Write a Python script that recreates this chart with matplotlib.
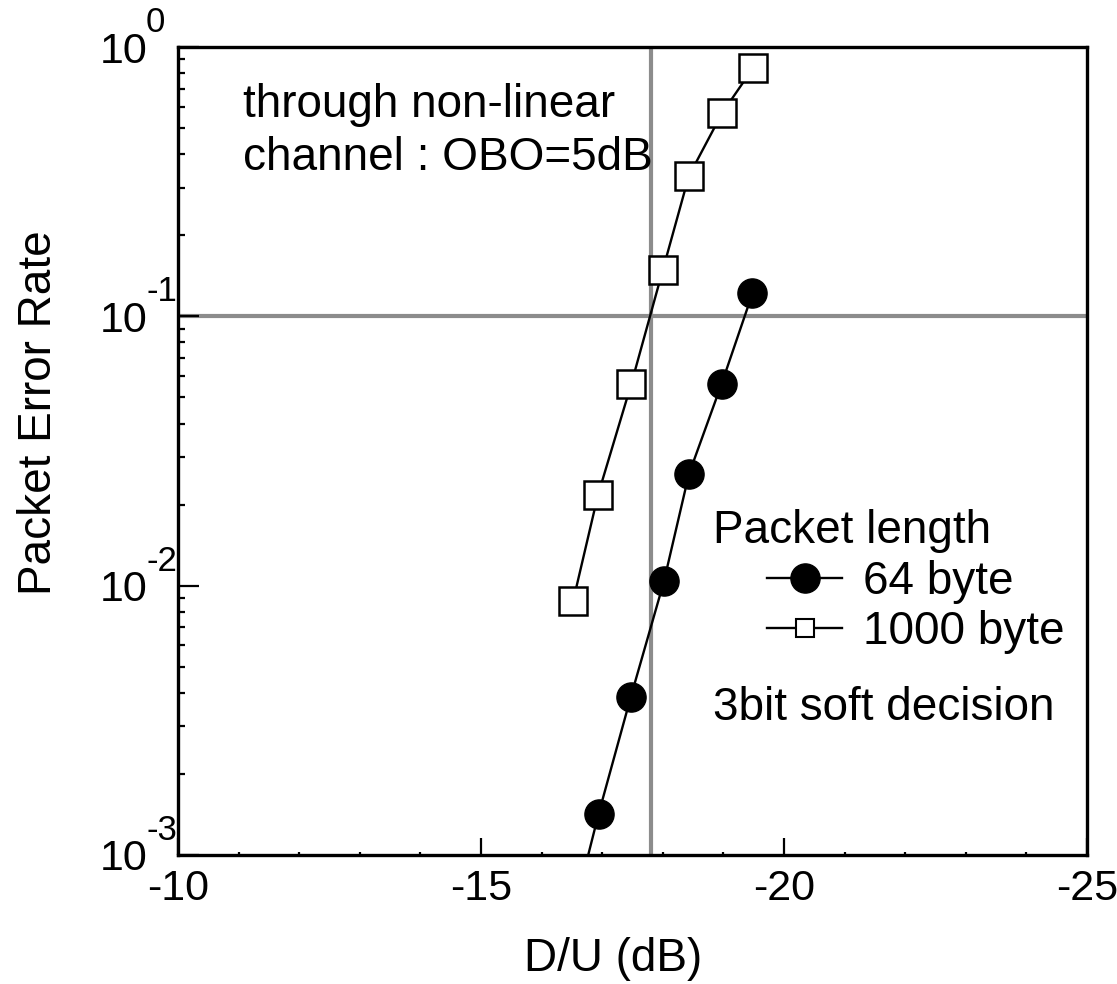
import matplotlib
matplotlib.use("Agg")
import matplotlib.pyplot as plt
from matplotlib.lines import Line2D
from matplotlib.ticker import MultipleLocator, LogLocator, FixedLocator, FixedFormatter, NullFormatter

plt.rcParams["font.family"] = ["Liberation Sans", "DejaVu Sans"]
plt.rcParams["axes.unicode_minus"] = False

# packet error rate vs D/U
du_64 = [-16.52, -16.94, -17.47, -18.02, -18.43, -18.97, -19.48]
per_64 = [0.0006, 0.00142, 0.00385, 0.0104, 0.0259, 0.0561, 0.1217]
du_1000 = [-16.52, -16.93, -17.48, -18.0, -18.43, -18.98, -19.49]
per_1000 = [0.00877, 0.0217, 0.0561, 0.1486, 0.332, 0.569, 0.836]

# grey reference lines
ref_du = -17.8
ref_per = 0.1

decades = [0, -1, -2, -3]
x_ticks = [-10, -15, -20, -25]

FS = 33

fig = plt.figure(figsize=(11.17, 9.84), dpi=100)
ax = fig.add_axes([0.1594, 0.1311, 0.8137, 0.8211])
ax.set_yscale("log")
ax.set_xlim(-10, -25)
ax.set_ylim(1e-3, 1)

ax.axvline(ref_du, color="0.55", lw=3, zorder=1)
ax.axhline(ref_per, color="0.55", lw=3, zorder=1)

ax.plot(du_64, per_64, color="k", lw=1.7, marker="o", ms=21,
        mfc="k", mec="k", zorder=3)
ax.plot(du_1000, per_1000, color="k", lw=1.7, marker="s", ms=20,
        mfc="white", mec="k", mew=1.8, zorder=3)

for s in ax.spines.values():
    s.set_linewidth(2.4)

# ticks
ax.xaxis.set_major_locator(FixedLocator(x_ticks))
ax.xaxis.set_major_formatter(FixedFormatter([str(v) for v in x_ticks]))
ax.xaxis.set_minor_locator(MultipleLocator(1))
ax.yaxis.set_major_locator(FixedLocator([10.0 ** d for d in decades]))
ax.yaxis.set_major_formatter(FixedFormatter(["10"] * len(decades)))
ax.yaxis.set_minor_locator(LogLocator(base=10, subs=range(2, 10)))
ax.yaxis.set_minor_formatter(NullFormatter())

ax.tick_params(axis="both", which="both", direction="in", top=False, right=False,
               width=1.6)
ax.tick_params(axis="x", which="major", length=12, pad=10, labelsize=31)
ax.tick_params(axis="x", which="minor", length=2.5)
ax.tick_params(axis="y", which="major", length=15, pad=22, labelsize=31)
ax.tick_params(axis="y", which="minor", length=5)

# exponents of the y tick labels
for d in decades:
    ax.annotate(str(d), xy=(0, 10.0 ** d), xycoords=("axes fraction", "data"),
                xytext=(-32, 15), textcoords="offset pixels", ha="left",
                va="baseline", fontsize=25, annotation_clip=False)

ax.set_xlabel("D/U (dB)", fontsize=FS, labelpad=20, x=0.479)
ax.set_ylabel("Packet Error Rate", fontsize=FS, labelpad=28, y=0.548)

ax.text(0.0715, 0.955, "through non-linear\nchannel : OBO=5dB", transform=ax.transAxes,
        fontsize=FS, ha="left", va="top", linespacing=1.25)

ax.text(0.5886, 0.386, "Packet length", transform=ax.transAxes,
        fontsize=FS, ha="left", va="baseline")
ax.text(0.5886, 0.167, "3bit soft decision", transform=ax.transAxes,
        fontsize=FS, ha="left", va="baseline")

handles = [
    Line2D([], [], color="k", lw=1.7, marker="o", ms=21, mfc="k", mec="k"),
    Line2D([], [], color="k", lw=1.7, marker="s", ms=13, mfc="white", mec="k", mew=1.5),
]
ax.legend(handles, ["64 byte", "1000 byte"], loc="upper left",
          bbox_to_anchor=(0.648, 0.365), frameon=False, fontsize=FS,
          borderpad=0, borderaxespad=0, handlelength=1.64, handletextpad=0.46,
          labelspacing=0.13, numpoints=1)

fig.savefig("out.png", dpi=100)
